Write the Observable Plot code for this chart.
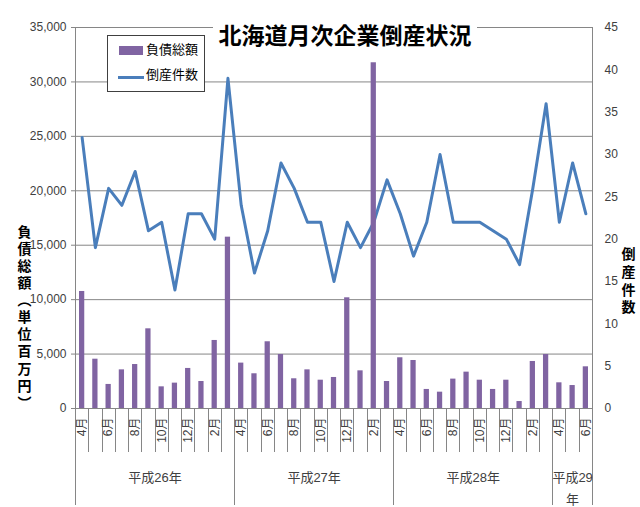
<!DOCTYPE html>
<html><head><meta charset="utf-8">
<script src="https://cdn.jsdelivr.net/npm/d3@7"></script>
<script src="https://cdn.jsdelivr.net/npm/@observablehq/plot@0.6"></script>
<style>
html,body{margin:0;padding:0;background:#fff;}
#wrap{position:relative;width:640px;height:507px;overflow:hidden;font-family:"Liberation Sans","Noto Sans CJK JP",sans-serif;}
#title{position:absolute;left:213px;top:17px;width:264px;height:34px;background:#fff;text-align:center;font-family:"Noto Sans CJK JP",sans-serif;font-weight:bold;font-size:23px;line-height:34px;color:#000;white-space:nowrap;}
#legend{position:absolute;left:107px;top:35px;width:96px;height:55px;border:1px solid #404040;background:#fff;font-family:"Noto Sans CJK JP",sans-serif;font-size:13px;color:#000;}
#legend .sw{position:absolute;}
#legend .tx{position:absolute;left:38px;line-height:18px;white-space:nowrap;}
</style></head><body>
<div id="wrap"></div>
<script>
// ---- data ----
const months = [
  "2014-04","2014-05","2014-06","2014-07","2014-08","2014-09","2014-10","2014-11","2014-12","2015-01","2015-02","2015-03",
  "2015-04","2015-05","2015-06","2015-07","2015-08","2015-09","2015-10","2015-11","2015-12","2016-01","2016-02","2016-03",
  "2016-04","2016-05","2016-06","2016-07","2016-08","2016-09","2016-10","2016-11","2016-12","2017-01","2017-02","2017-03",
  "2017-04","2017-05","2017-06"
];
const tickLabels = [
  "4月","","6月","","8月","","10月","","12月","","2月","",
  "4月","","6月","","8月","","10月","","12月","","2月","",
  "4月","","6月","","8月","","10月","","12月","","2月","",
  "4月","","6月"
];
// 負債総額（百万円）
const debt = [
  10750, 4530, 2210, 3550, 4040, 7320, 1990, 2330, 3680, 2480, 6250, 15740,
  4170, 3190, 6130, 4960, 2730, 3550, 2600, 2850, 10170, 3460, 31760, 2480,
  4660, 4410, 1750, 1500, 2700, 3340, 2600, 1750, 2600, 640, 4320, 4960,
  2360, 2110, 3830
];
// 倒産件数
const counts = [
  32, 19, 26, 24, 28, 21, 22, 14, 23, 23, 20, 39,
  24, 16, 21, 29, 26, 22, 22, 15, 22, 19, 22, 27,
  23, 18, 22, 30, 22, 22, 22, 21, 20, 17, 26, 36,
  22, 29, 23
];
const groupNames = ["平成26年","平成27年","平成28年","平成29年"];
const groupSizes = [12, 12, 12, 3];
const leftTicks = [0, 5000, 10000, 15000, 20000, 25000, 30000, 35000];
const rightTicks = [0, 5, 10, 15, 20, 25, 30, 35, 40, 45];
const titleText = "北海道月次企業倒産状況";
const seriesNames = ["負債総額", "倒産件数"];
const leftLabel = "負債総額（単位百万円）";
const rightLabel = "倒産件数";

// ---- styles ----
const barColor = "#8064A2";
const lineColor = "#4A7EBB";
const gridColor = "#868686";
const textColor = "#404040";

const yMax = 35000, rMax = 45;
const k = yMax / rMax;

const data = months.map((m, i) => ({i, m, debt: debt[i], count: counts[i], label: tickLabels[i]}));
const groups = [];
{ let s = 0; groupNames.forEach((n, j) => { groups.push({name: n, start: s, end: s + groupSizes[j]}); s += groupSizes[j]; }); }
const groupEdges = new Set(groups.flatMap(g => [g.start, g.end]));

const wrapGroup = g => (g.end - g.start) < 6 ? g.name.slice(0, -1) + "\n" + g.name.slice(-1) : g.name;

// axis decorations drawn with the plot's own scales
const decor = (index, scales, values, dims) => {
  const {x, y} = scales;
  const y0 = y(0), yTop = y(yMax);
  const g = d3.create("svg:g").attr("stroke", gridColor).attr("stroke-width", 1).attr("fill", "none");
  for (let b = 0; b <= months.length; b++) {
    const px = Math.round(x(b)) + 0.5;
    const isEdge = groupEdges.has(b);
    const y1 = (b === 0 || b === months.length) ? yTop : y0;
    const y2 = isEdge ? dims.height - 2 : y0 + 44;
    g.append("line").attr("x1", px).attr("x2", px).attr("y1", y1).attr("y2", y2);
  }
  return g.node();
};

const plot = Plot.plot({
  width: 640,
  height: 507,
  marginLeft: 75,
  marginRight: 48,
  marginTop: 27,
  marginBottom: 99,
  style: {fontFamily: '"Liberation Sans","Noto Sans CJK JP",sans-serif', fontSize: "12px", background: "transparent", color: textColor, overflow: "visible"},
  x: {domain: [0, months.length], axis: null},
  y: {domain: [0, yMax]},
  marks: [
    Plot.gridY({ticks: leftTicks, stroke: gridColor, strokeOpacity: 1}),
    decor,
    Plot.ruleY([0], {stroke: gridColor}),
    Plot.line(data, {x: d => d.i + 0.5, y: d => d.count * k, stroke: lineColor, strokeWidth: 3, strokeLinejoin: "round"}),
    Plot.rectY(data, {x1: d => d.i, x2: d => d.i + 1, y1: 0, y2: "debt", fill: barColor, insetLeft: 4, insetRight: 4}),
    Plot.axisY({ticks: leftTicks, tickFormat: d3.format(","), tickSize: 4, tickPadding: 5, label: null, fontSize: 12, stroke: gridColor, fill: textColor}),
    Plot.axisY({anchor: "right", ticks: rightTicks.map(v => v * k), tickFormat: d => String(Math.round(d / k)), tickSize: 0, tickPadding: 12, label: null, fontSize: 12, fill: textColor}),
    Plot.text(data.filter(d => d.label), {x: d => d.i + 0.5, y: 0, text: "label", rotate: -90, textAnchor: "end", dy: 9, fontSize: 12, fill: textColor}),
    Plot.text(groups, {x: d => (d.start + d.end) / 2, y: 0, text: wrapGroup, dy: 57, lineAnchor: "top", lineHeight: 1.75, fontSize: 13, fill: textColor}),
    Plot.text([leftLabel], {frameAnchor: "left", text: d => d, dx: -51, dy: 96, textAnchor: "middle", fontSize: 14, fontWeight: "bold", fill: "#000", fontFamily: "Noto Sans CJK JP", ariaLabel: () => "left-title"}),
    Plot.text([rightLabel], {frameAnchor: "right", text: d => d, dx: 36, dy: 60, textAnchor: "middle", fontSize: 14, fontWeight: "bold", fill: "#000", fontFamily: "Noto Sans CJK JP", ariaLabel: () => "right-title"})
  ]
});

// vertical (tategaki) writing for the axis titles
d3.select(plot).selectAll('text[aria-label="left-title"]')
  .attr("dy", null).attr("writing-mode", "vertical-rl").style("writing-mode", "vertical-rl").style("letter-spacing", "3.1px");
d3.select(plot).selectAll('text[aria-label="right-title"]')
  .attr("dy", null).attr("writing-mode", "vertical-rl").style("writing-mode", "vertical-rl").style("letter-spacing", "3.7px");

const wrap = document.getElementById("wrap");
wrap.appendChild(plot);

const title = document.createElement("div");
title.id = "title";
title.textContent = titleText;
wrap.appendChild(title);

const legend = document.createElement("div");
legend.id = "legend";
legend.innerHTML =
  `<div class="sw" style="left:11px;top:10px;width:24px;height:9px;background:${barColor}"></div>` +
  `<div class="tx" style="top:4px">${seriesNames[0]}</div>` +
  `<div class="sw" style="left:10px;top:40px;width:26px;height:3px;background:${lineColor}"></div>` +
  `<div class="tx" style="top:29px">${seriesNames[1]}</div>`;
wrap.appendChild(legend);
</script>
</body></html>
